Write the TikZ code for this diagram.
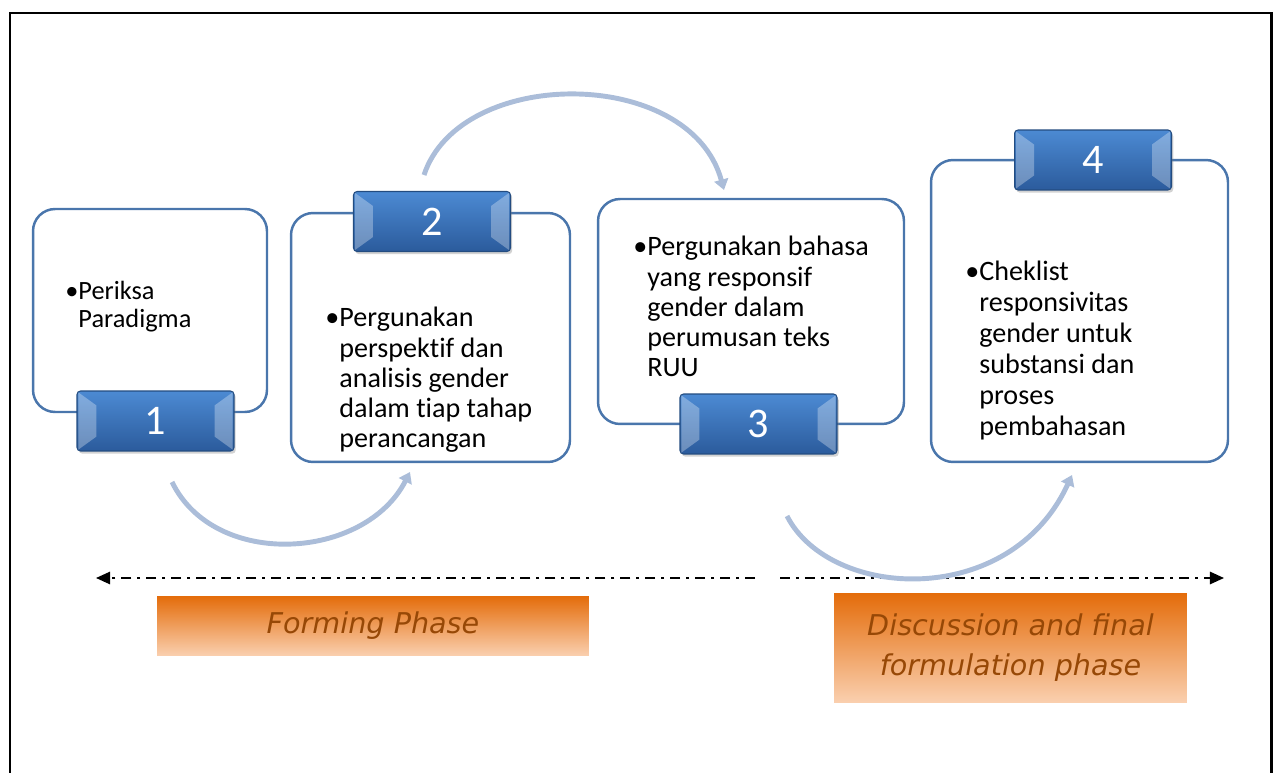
\documentclass[tikz,border=0pt]{standalone}
\usepackage{fontspec}
\setmainfont{Carlito}[Ligatures=NoCommon]
\newfontfamily\phasefont{DejaVu Sans}
\usetikzlibrary{arrows.meta,positioning,shadows}

\definecolor{boxedge}{HTML}{4A76AC}
\definecolor{tabtop}{HTML}{4C8AD3}
\definecolor{tabbot}{HTML}{2B5B9C}
\definecolor{tabedge}{HTML}{234C80}
\definecolor{arcblue}{HTML}{ABBDD9}
\definecolor{phasetop}{HTML}{E46C0A}
\definecolor{phasebot}{HTML}{FAD0B0}
\definecolor{phasetext}{HTML}{974806}

\tikzset{x=0.02cm, y=-0.02cm, % one unit is one pixel of the layout, y runs downwards
        stepbox/.style={ % white rounded frame of each step
            draw=boxedge,
            line width=1.4pt,
            fill=white,
            rounded corners=0.44cm},
        numtab/.style={ % blue number tab sitting on a frame
            top color=tabtop,
            bottom color=tabbot,
            draw=tabedge,
            line width=0.6pt,
            rounded corners=2pt,
            minimum width=3.14cm,
            minimum height=1.2cm,
            text=white,
            font=\fontsize{24}{24}\selectfont,
            drop shadow={opacity=0.35, shadow xshift=1pt, shadow yshift=-1.5pt}},
        bevel/.style={fill=white, opacity=0.3, draw=none},
        steptext/.style={ % bullet text inside a frame
            anchor=base west,
            inner sep=0pt,
            font=\fontsize{16}{17.2}\selectfont},
        flowarc/.style={ % light curved arrow between the steps
            draw=arcblue,
            line width=2.8pt,
            -{Triangle[length=6pt,width=8pt]}},
        phaseline/.style={ % dash-dot time line
            draw,
            line width=1.1pt,
            dash pattern=on 5.7pt off 3.4pt on 1.7pt off 3.4pt,
            -{Triangle[length=8pt,width=7pt]}},
        phase/.style={ % orange phase label
            top color=phasetop,
            bottom color=phasebot,
            text=phasetext,
            inner sep=0pt,
            align=center,
            font=\phasefont\itshape\fontsize{16.3}{22.7}\selectfont}
        }

\begin{document}
\begin{tikzpicture}
    \useasboundingbox (0,0) rectangle (1274,773);
    \draw[line width=1.7pt] (10,800) -- (10,13) -- (1271,13) -- (1271,800);

    % frames
    \node[stepbox, minimum width=4.68cm, minimum height=4.06cm] (b1) at (150,310.5) {};
    \node[stepbox, minimum width=5.58cm, minimum height=4.98cm] (b2) at (430.5,337.5) {};
    \node[stepbox, minimum width=6.12cm, minimum height=4.5cm] (b3) at (751,311.5) {};
    \node[stepbox, minimum width=5.94cm, minimum height=6.04cm] (b4) at (1079.5,311) {};

    % texts
    \node[steptext, font=\fontsize{15}{15.9}\selectfont] (p1) at (65,300)
        {\begin{tabular}[t]{@{}l@{}l@{}}•&Periksa\\&Paradigma\end{tabular}};
    \node[steptext] (p2) at (325,327)
        {\begin{tabular}[t]{@{}l@{}l@{}}•&Pergunakan\\&perspektif dan\\&analisis gender\\&dalam tiap tahap\\&perancangan\end{tabular}};
    \node[steptext] (p3) at (633,256)
        {\begin{tabular}[t]{@{}l@{}l@{}}•&Pergunakan bahasa\\&yang responsif\\&gender dalam\\&perumusan teks\\&RUU\end{tabular}};
    \node[steptext, font=\fontsize{16}{17.6}\selectfont] (p4) at (965,281)
        {\begin{tabular}[t]{@{}l@{}l@{}}•&Cheklist\\&responsivitas\\&gender untuk\\&substansi dan\\&proses\\&pembahasan\end{tabular}};

    % number tabs
    \node[numtab] (t1) at (155.5,421) {1};
    \node[numtab] (t2) at (432,221.5) {2};
    \node[numtab] (t3) at (758.5,424) {3};
    \node[numtab] (t4) at (1093,160) {4};
    \foreach \t in {t1,t2,t3,t4} {
        \fill[bevel] ([shift={(2,2)}]\t.north west) -- ++(18,13)
            -- ([shift={(20,-15)}]\t.south west) -- ([shift={(2,-2)}]\t.south west) -- cycle;
        \fill[bevel] ([shift={(-2,2)}]\t.north east) -- ++(-18,13)
            -- ([shift={(-20,-15)}]\t.south east) -- ([shift={(-2,-2)}]\t.south east) -- cycle;
    }

    % time lines
    \coordinate (l0) at (96,578);
    \coordinate (l1) at (755,578);
    \coordinate (r0) at (780,578);
    \coordinate (r1) at (1224,578);
    \draw[phaseline] (l1) -- (l0);
    \draw[phaseline] (r0) -- (r1);

    % curved arrows
    \coordinate (a1) at (172,482);
    \coordinate (a2) at (410,472);
    \coordinate (c1) at (424,175);
    \coordinate (c2) at (724,190);
    \coordinate (d1) at (787,516);
    \coordinate (d2) at (1072,475);
    \draw[flowarc] (a1) .. controls (215,570) and (365,560) .. (a2);
    \draw[flowarc] (c1) .. controls (460,66) and (690,66) .. (c2);
    \draw[flowarc] (d1) .. controls (830,600) and (1010,610) .. (d2);

    % phases
    \node[phase, minimum width=8.64cm, minimum height=1.2cm] (ph1) at (373,626) {Forming Phase};
    \node[phase, minimum width=7.06cm, minimum height=2.2cm] (ph2) at (1010.5,648) {Discussion and final\\formulation phase};
\end{tikzpicture}
\end{document}
